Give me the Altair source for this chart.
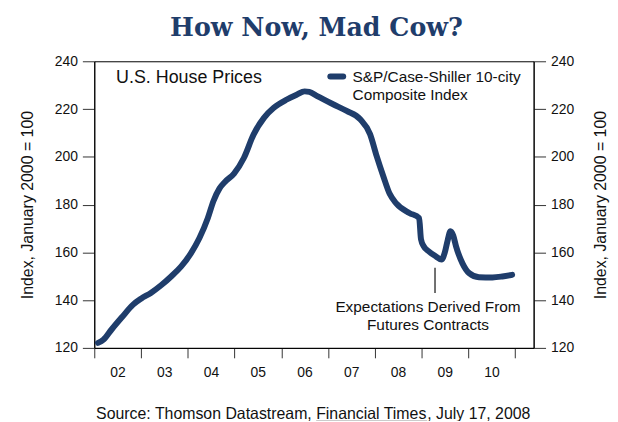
import altair as alt
import pandas as pd

# ---- data ----
years = [2002.08, 2002.2, 2002.37, 2002.59, 2002.83, 2003.0, 2003.21, 2003.43, 2003.65,
         2003.86, 2004.07, 2004.25, 2004.43, 2004.55, 2004.68, 2004.8, 2004.99, 2005.2,
         2005.41, 2005.63, 2005.84, 2006.12, 2006.33, 2006.5, 2006.6, 2006.77, 2007.12,
         2007.4, 2007.69, 2007.9, 2008.04, 2008.18, 2008.32, 2008.46, 2008.74, 2008.95,
         2008.99, 2009.05, 2009.15, 2009.31, 2009.43, 2009.5, 2009.56, 2009.62, 2009.68,
         2009.74, 2009.88, 2010.02, 2010.23, 2010.52, 2010.73, 2010.94]
index_values = [122.1, 123.5, 127.7, 132.8, 138.1, 140.6, 143.0, 146.2, 150.0,
                154.1, 159.7, 166.0, 174.4, 181.5, 186.8, 189.6, 193.0, 199.5,
                209.4, 216.3, 220.5, 224.0, 226.0, 227.4, 227.2, 225.4, 221.9,
                219.2, 215.7, 209.5, 200.4, 192.1, 184.5, 180.5, 176.5, 174.4,
                165.5, 162.5, 160.5, 158.3, 157.0, 160.0, 165.0, 168.8, 167.0,
                162.5, 155.3, 151.3, 149.6, 149.5, 149.9, 150.6]

year_ticks = list(range(2002, 2012))
y_ticks = [120, 140, 160, 180, 200, 220, 240]

series_name = "S&P/Case-Shiller 10-city\nComposite Index"
panel_label = "U.S. House Prices"
title_text = "How Now, Mad Cow?"
axis_title = "Index, January 2000 = 100"

annot_text = "Expectations Derived From\nFutures Contracts"
annot_line_x = [2009.29]
annot_line_y = [153.6]
annot_line_y2 = [143.0]
annot_text_x = [2009.14]
annot_text_y = [135.2]

source_parts = ["Source: Thomson Datastream,", "Financial Times", ", July 17, 2008"]

NAVY = "#1f3d6b"
FONT = "Liberation Sans"
W, H = 443, 289

xscale = alt.Scale(domain=[2002, 2011.4], nice=False, zero=False)
yscale = alt.Scale(domain=[120, 240], nice=False, zero=False)

df = pd.DataFrame({"year": years, "value": index_values})

x_axis = alt.Axis(values=year_ticks, format="d",
                  labelExpr="datum.value < 2011 ? substring(toString(datum.value), 2, 4) : ''",
                  tickSize=10, labelOffset=23.5, labelPadding=7.5, labelFlush=False,
                  labelAngle=0, grid=False, title=None, labelFontSize=14, labelFont=FONT,
                  domainColor="black", tickColor="#333", labelColor="#111")

def y_axis(orient, tx):
    return alt.Axis(orient=orient, values=y_ticks, tickSize=12, labelPadding=5, grid=False,
                    labelFontSize=14, labelFont=FONT, labelColor="#111",
                    domainColor="black", tickColor="#333",
                    title=axis_title, titleFont=FONT, titleFontSize=16,
                    titleFontWeight="normal", titleColor="#111", titleAngle=270,
                    titleX=tx, titleY=H / 2, titleAlign="center", titleBaseline="middle")

line_right = alt.Chart(df).mark_line(color=NAVY, strokeWidth=6, strokeCap="round",
                                     strokeJoin="round", interpolate="monotone").encode(
    x=alt.X("year:Q", scale=xscale, axis=x_axis),
    y=alt.Y("value:Q", scale=yscale, axis=y_axis("right", 67)),
)

annot_df = pd.DataFrame({"x": annot_line_x, "y": annot_line_y, "y2": annot_line_y2,
                         "tx": annot_text_x, "ty": annot_text_y, "t": [annot_text]})

annot_rule = alt.Chart(annot_df).mark_rule(color="#111", strokeWidth=1.2).encode(
    x=alt.X("x:Q", scale=xscale, axis=x_axis),
    y=alt.Y("y:Q", scale=yscale, axis=y_axis("left", -67)),
    y2="y2:Q",
)

annot_label = alt.Chart(annot_df).mark_text(
    font=FONT, fontSize=15.5, color="#111", align="center", baseline="alphabetic",
    lineBreak="\n", lineHeight=18.3).encode(
    x=alt.X("tx:Q", scale=xscale, axis=x_axis),
    y=alt.Y("ty:Q", scale=yscale, axis=None),
    text="t:N",
)

title = alt.Chart(pd.DataFrame({"t": [title_text]})).mark_text(
    font="DejaVu Serif", fontWeight="bold", fontSize=25.5, color=NAVY,
    align="center", baseline="alphabetic").encode(
    x=alt.value(224), y=alt.value(-25.5), text="t:N")

panel = alt.Chart(pd.DataFrame({"t": [panel_label]})).mark_text(
    font=FONT, fontSize=18, color="#111", align="left", baseline="alphabetic").encode(
    x=alt.value(22), y=alt.value(22), text="t:N")

legend_sym = alt.Chart(pd.DataFrame({"s": [series_name]})).mark_rule(
    color=NAVY, strokeWidth=6, strokeCap="round").encode(
    x=alt.value(238), x2=alt.value(251), y=alt.value(15.3))

legend_txt = alt.Chart(pd.DataFrame({"s": [series_name]})).mark_text(
    font=FONT, fontSize=15.5, color="#111", align="left", baseline="alphabetic",
    lineBreak="\n", lineHeight=18.4).encode(
    x=alt.value(260.4), y=alt.value(20.8), text="s:N")

src_df = pd.DataFrame({"t": source_parts})
src1 = alt.Chart(src_df.iloc[[0]]).mark_text(
    font=FONT, fontSize=16, color="#111", align="right", baseline="alphabetic").encode(
    x=alt.value(219.3), y=alt.value(361), text="t:N")
src2 = alt.Chart(src_df.iloc[[1]]).mark_text(
    font=FONT, fontSize=16, color="#111", align="left", baseline="alphabetic").encode(
    x=alt.value(223.7), y=alt.value(361), text="t:N")
src3 = alt.Chart(src_df.iloc[[2]]).mark_text(
    font=FONT, fontSize=16, color="#111", align="left", baseline="alphabetic").encode(
    x=alt.value(335.7), y=alt.value(361), text="t:N")
src_ul = alt.Chart(src_df.iloc[[1]]).mark_rule(color="#111", strokeWidth=1).encode(
    x=alt.value(223.7), x2=alt.value(335.7), y=alt.value(363))

chart = alt.layer(
    annot_rule, line_right, annot_label, title, panel, legend_sym, legend_txt,
    src1, src2, src3, src_ul,
).resolve_scale(y="independent").properties(
    width=W, height=H,
    padding={"left": 87, "top": 52, "right": 77, "bottom": 72},
    autosize=alt.AutoSizeParams(type="none"),
).configure_view(stroke="black", strokeWidth=1)

chart.save("out.html", embed_options={"renderer": "svg", "actions": False})
